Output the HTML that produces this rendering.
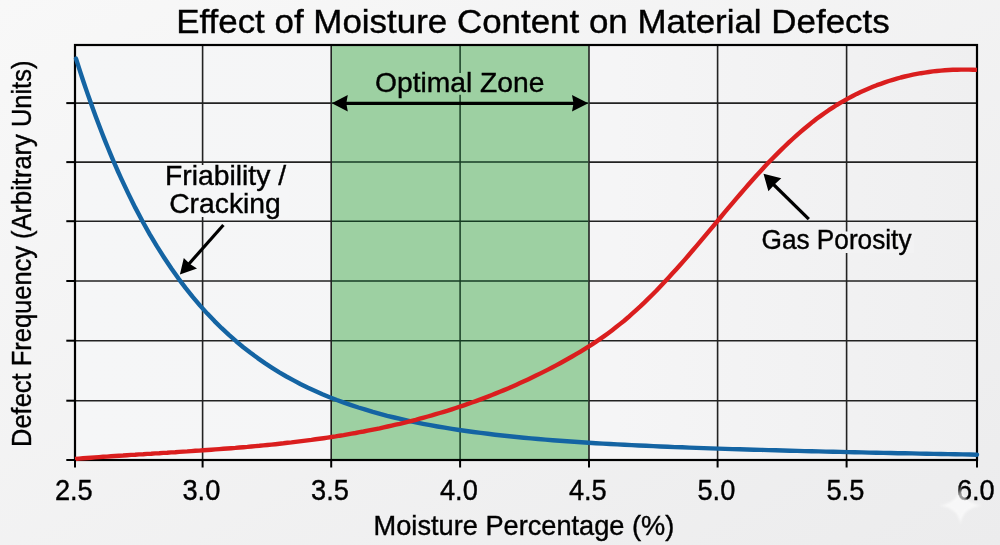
<!DOCTYPE html>
<html><head><meta charset="utf-8"><style>
html,body{margin:0;padding:0;width:1000px;height:545px;overflow:hidden;background:#f4f4f4}
svg{display:block;will-change:transform}
text{font-family:"Liberation Sans",sans-serif;fill:#000;stroke:#000;stroke-width:0.4px}
</style></head><body>
<svg width="1000" height="545" viewBox="0 0 1000 545">
<defs>
<linearGradient id="bg" x1="0" y1="0" x2="1" y2="1">
<stop offset="0" stop-color="#f8f8f8"/><stop offset="1" stop-color="#ececed"/>
</linearGradient>
<linearGradient id="pbg" x1="0" y1="0" x2="1" y2="0">
<stop offset="0" stop-color="#f5f6f7"/><stop offset="0.6" stop-color="#f5f5f6"/><stop offset="1" stop-color="#efeff0"/>
</linearGradient>
<filter id="soft" x="-20%" y="-20%" width="140%" height="140%"><feGaussianBlur stdDeviation="0.8"/></filter>
</defs>
<rect x="0" y="0" width="1000" height="545" fill="url(#bg)"/>
<rect x="75" y="45" width="902" height="415" fill="url(#pbg)"/>
<rect x="331.2" y="45" width="257.8" height="415" fill="#9dd0a2"/>
<g stroke="#222" stroke-width="1.6">
<line x1="202.6" y1="45" x2="202.6" y2="460"/>
<line x1="331.2" y1="45" x2="331.2" y2="460"/>
<line x1="589.0" y1="45" x2="589.0" y2="460"/>
<line x1="717.6" y1="45" x2="717.6" y2="460"/>
<line x1="846.6" y1="45" x2="846.6" y2="460"/>
<line x1="75" y1="103.1" x2="331.2" y2="103.1"/>
<line x1="589" y1="103.1" x2="977" y2="103.1"/>
<line x1="75" y1="162.1" x2="331.2" y2="162.1"/>
<line x1="589" y1="162.1" x2="977" y2="162.1"/>
<line x1="75" y1="221.2" x2="331.2" y2="221.2"/>
<line x1="589" y1="221.2" x2="977" y2="221.2"/>
<line x1="75" y1="281.0" x2="331.2" y2="281.0"/>
<line x1="589" y1="281.0" x2="977" y2="281.0"/>
<line x1="75" y1="340.7" x2="331.2" y2="340.7"/>
<line x1="589" y1="340.7" x2="977" y2="340.7"/>
<line x1="75" y1="400.7" x2="331.2" y2="400.7"/>
<line x1="589" y1="400.7" x2="977" y2="400.7"/>
</g>
<g stroke="#173d24" stroke-width="1.5">
<line x1="460.1" y1="45" x2="460.1" y2="460"/>
<line x1="332" y1="103.1" x2="588.2" y2="103.1"/>
<line x1="332" y1="162.1" x2="588.2" y2="162.1"/>
<line x1="332" y1="221.2" x2="588.2" y2="221.2"/>
<line x1="332" y1="281.0" x2="588.2" y2="281.0"/>
<line x1="332" y1="340.7" x2="588.2" y2="340.7"/>
<line x1="332" y1="400.7" x2="588.2" y2="400.7"/>
</g>
<!-- label backgrounds -->
<rect x="374" y="73" width="171" height="21.8" fill="#9dd0a2"/>
<rect x="163" y="165" width="126" height="52" fill="#f5f6f7"/>
<rect x="760" y="231.5" width="154" height="21.5" fill="#f2f2f3"/>
<rect x="75" y="45" width="902" height="415" fill="none" stroke="#000" stroke-width="2.2"/>
<path d="M76.0,58.6 L78.0,64.9 L80.0,71.1 L82.0,77.2 L84.0,83.2 L86.0,89.1 L88.0,94.9 L90.0,100.6 L92.0,106.3 L94.0,111.8 L96.0,117.2 L98.0,122.6 L100.0,127.8 L102.0,133.0 L104.0,138.1 L106.0,143.1 L108.0,148.0 L110.0,152.9 L112.0,157.6 L114.0,162.3 L116.0,166.9 L118.0,171.5 L120.0,175.9 L121.0,178.1 L128.2,193.4 L135.4,207.9 L142.6,221.5 L149.8,234.3 L157.0,246.4 L164.2,257.7 L171.4,268.5 L178.5,278.6 L185.7,288.1 L192.9,297.1 L200.1,305.6 L207.3,313.6 L214.5,321.1 L221.7,328.2 L228.9,334.9 L236.1,341.2 L243.3,347.2 L250.5,352.8 L257.7,358.1 L264.9,363.1 L272.1,367.8 L279.3,372.3 L286.4,376.5 L293.6,380.4 L300.8,384.2 L308.0,387.7 L315.2,391.0 L322.4,394.2 L329.6,397.2 L336.8,400.0 L344.0,402.6 L351.2,405.1 L358.4,407.5 L365.6,409.7 L372.8,411.9 L380.0,413.9 L387.2,415.8 L394.3,417.5 L401.5,419.2 L408.7,420.8 L415.9,422.4 L423.1,423.8 L430.3,425.2 L437.5,426.5 L444.7,427.7 L451.9,428.9 L459.1,430.0 L466.3,431.0 L473.5,432.0 L480.7,432.9 L487.9,433.8 L495.1,434.7 L502.2,435.5 L509.4,436.3 L516.6,437.0 L523.8,437.7 L531.0,438.4 L538.2,439.0 L545.4,439.6 L552.6,440.2 L559.8,440.7 L567.0,441.3 L574.2,441.8 L581.4,442.3 L588.6,442.7 L595.8,443.2 L602.9,443.6 L610.1,444.0 L617.3,444.4 L624.5,444.8 L631.7,445.1 L638.9,445.5 L646.1,445.8 L653.3,446.1 L660.5,446.5 L667.7,446.8 L674.9,447.1 L682.1,447.3 L689.3,447.6 L696.5,447.9 L703.7,448.1 L710.8,448.4 L718.0,448.6 L725.2,448.9 L732.4,449.1 L739.6,449.3 L746.8,449.5 L754.0,449.7 L761.2,449.9 L768.4,450.1 L775.6,450.3 L782.8,450.5 L790.0,450.7 L797.2,450.9 L804.4,451.1 L811.6,451.3 L818.7,451.4 L825.9,451.6 L833.1,451.8 L840.3,451.9 L847.5,452.1 L854.7,452.3 L861.9,452.4 L869.1,452.6 L876.3,452.7 L883.5,452.9 L890.7,453.0 L897.9,453.2 L905.1,453.3 L912.3,453.4 L919.5,453.6 L926.6,453.7 L933.8,453.9 L941.0,454.0 L948.2,454.1 L955.4,454.3 L962.6,454.4 L969.8,454.5 L977.0,454.7" fill="none" stroke="#1464a3" stroke-width="4.4" stroke-linecap="round" stroke-linejoin="round"/>
<path d="M75.0,459.0 L79.0,458.6 L83.0,458.3 L87.0,458.0 L91.0,457.7 L95.0,457.4 L99.1,457.1 L103.1,456.8 L107.1,456.6 L111.1,456.3 L115.1,456.0 L119.1,455.7 L123.1,455.5 L127.1,455.2 L131.1,454.9 L135.1,454.7 L139.1,454.4 L143.2,454.2 L147.2,453.9 L151.2,453.7 L155.2,453.4 L159.2,453.2 L163.2,452.9 L167.2,452.7 L171.2,452.4 L175.2,452.2 L179.2,451.9 L183.2,451.6 L187.2,451.4 L191.3,451.1 L195.3,450.8 L199.3,450.6 L203.3,450.3 L207.3,450.0 L211.3,449.7 L215.3,449.4 L219.3,449.1 L223.3,448.8 L227.3,448.5 L231.3,448.2 L235.4,447.9 L239.4,447.5 L243.4,447.2 L247.4,446.9 L251.4,446.5 L255.4,446.1 L259.4,445.8 L263.4,445.4 L267.4,445.0 L271.4,444.6 L275.4,444.2 L279.5,443.7 L283.5,443.3 L287.5,442.8 L291.5,442.4 L295.5,441.9 L299.5,441.4 L303.5,440.9 L307.5,440.4 L311.5,439.9 L315.5,439.3 L319.5,438.8 L323.6,438.2 L327.6,437.6 L331.6,437.0 L335.6,436.4 L339.6,435.7 L343.6,435.1 L347.6,434.4 L351.6,433.7 L355.6,433.0 L359.6,432.2 L363.6,431.5 L367.6,430.7 L371.7,429.9 L375.7,429.1 L379.7,428.3 L383.7,427.4 L387.7,426.5 L391.7,425.6 L395.7,424.7 L399.7,423.8 L403.7,422.8 L407.7,421.8 L411.7,420.8 L415.8,419.8 L419.8,418.7 L423.8,417.6 L427.8,416.5 L431.8,415.4 L435.8,414.2 L439.8,413.0 L443.8,411.8 L447.8,410.6 L451.8,409.3 L455.8,408.0 L459.9,406.7 L463.9,405.3 L467.9,403.9 L471.9,402.5 L475.9,401.1 L479.9,399.6 L483.9,398.1 L487.9,396.6 L491.9,395.0 L495.9,393.4 L499.9,391.8 L504.0,390.1 L508.0,388.4 L512.0,386.7 L516.0,384.9 L520.0,383.1 L524.0,381.3 L528.0,379.4 L532.0,377.5 L536.0,375.6 L540.0,373.6 L544.0,371.6 L548.0,369.6 L552.1,367.5 L556.1,365.4 L560.1,363.2 L564.1,361.0 L568.1,358.8 L572.1,356.5 L576.1,354.2 L580.1,351.8 L584.1,349.3 L588.1,346.8 L592.1,344.3 L596.2,341.6 L600.2,338.9 L604.2,336.1 L608.2,333.2 L612.2,330.2 L616.2,327.1 L620.2,323.9 L624.2,320.7 L628.2,317.3 L632.2,313.7 L636.2,310.1 L640.3,306.4 L644.3,302.6 L648.3,298.7 L652.3,294.7 L656.3,290.7 L660.3,286.5 L664.3,282.3 L668.3,278.0 L672.3,273.6 L676.3,269.2 L680.3,264.7 L684.4,260.1 L688.4,255.5 L692.4,250.8 L696.4,246.1 L700.4,241.4 L704.4,236.6 L708.4,231.9 L712.4,227.1 L716.4,222.3 L720.4,217.5 L724.4,212.7 L728.4,207.9 L732.5,203.1 L736.5,198.4 L740.5,193.7 L744.5,189.1 L748.5,184.5 L752.5,180.0 L756.5,175.5 L760.5,171.2 L764.5,166.8 L768.5,162.6 L772.5,158.5 L776.6,154.4 L780.6,150.4 L784.6,146.5 L788.6,142.7 L792.6,139.0 L796.6,135.4 L800.6,131.9 L804.6,128.5 L808.6,125.2 L812.6,121.9 L816.6,118.8 L820.7,115.9 L824.7,113.0 L828.7,110.2 L832.7,107.6 L836.7,105.0 L840.7,102.6 L844.7,100.3 L848.7,98.1 L852.7,96.0 L856.7,93.9 L860.7,92.0 L864.8,90.2 L868.8,88.5 L872.8,86.8 L876.8,85.2 L880.8,83.8 L884.8,82.4 L888.8,81.0 L892.8,79.8 L896.8,78.6 L900.8,77.5 L904.8,76.5 L908.8,75.6 L912.9,74.7 L916.9,73.9 L920.9,73.2 L924.9,72.6 L928.9,72.0 L932.9,71.4 L936.9,71.0 L940.9,70.6 L944.9,70.3 L948.9,70.0 L952.9,69.8 L957.0,69.7 L961.0,69.6 L965.0,69.6 L969.0,69.6 L973.0,69.7 L977.0,69.9" fill="none" stroke="#da1e1e" stroke-width="4.4" stroke-linecap="butt" stroke-linejoin="round"/>
<g stroke="#000" stroke-width="2">
<line x1="75.0" y1="460" x2="75.0" y2="467.5"/>
<line x1="202.6" y1="460" x2="202.6" y2="467.5"/>
<line x1="331.2" y1="460" x2="331.2" y2="467.5"/>
<line x1="460.1" y1="460" x2="460.1" y2="467.5"/>
<line x1="589.0" y1="460" x2="589.0" y2="467.5"/>
<line x1="717.6" y1="460" x2="717.6" y2="467.5"/>
<line x1="846.6" y1="460" x2="846.6" y2="467.5"/>
<line x1="977.0" y1="460" x2="977.0" y2="467.5"/>
<line x1="66.3" y1="103.1" x2="75" y2="103.1"/>
<line x1="66.3" y1="162.1" x2="75" y2="162.1"/>
<line x1="66.3" y1="221.2" x2="75" y2="221.2"/>
<line x1="66.3" y1="281.0" x2="75" y2="281.0"/>
<line x1="66.3" y1="340.7" x2="75" y2="340.7"/>
<line x1="66.3" y1="400.7" x2="75" y2="400.7"/>
<line x1="66.3" y1="460.0" x2="75" y2="460.0"/>
</g>
<!-- optimal zone arrow -->
<line x1="345" y1="103.4" x2="575" y2="103.4" stroke="#000" stroke-width="3.4"/>
<path d="M331.8,103.3 L347.8,95.1 L346.3,103.3 L347.8,111.5 Z" fill="#000"/>
<path d="M588.3,103.3 L572,95.1 L573.5,103.3 L572,111.5 Z" fill="#000"/>
<!-- annotation arrows -->
<line x1="223.4" y1="225" x2="188" y2="265" stroke="#000" stroke-width="3.2"/>
<path d="M179.9,274.5 L183.8,258 L190,264 L197,268.4 Z" fill="#000"/>
<line x1="808.8" y1="219.1" x2="772" y2="183" stroke="#000" stroke-width="3.2"/>
<path d="M763.5,173.8 L781.3,178.3 L775,184 L768.4,191.2 Z" fill="#000"/>
<g font-size="28.8">
<text x="73.8" y="499.6" text-anchor="middle" textLength="37.8" lengthAdjust="spacingAndGlyphs">2.5</text>
<text x="201.4" y="499.6" text-anchor="middle" textLength="37.8" lengthAdjust="spacingAndGlyphs">3.0</text>
<text x="330.0" y="499.6" text-anchor="middle" textLength="37.8" lengthAdjust="spacingAndGlyphs">3.5</text>
<text x="458.9" y="499.6" text-anchor="middle" textLength="37.8" lengthAdjust="spacingAndGlyphs">4.0</text>
<text x="587.8" y="499.6" text-anchor="middle" textLength="37.8" lengthAdjust="spacingAndGlyphs">4.5</text>
<text x="716.4" y="499.6" text-anchor="middle" textLength="37.8" lengthAdjust="spacingAndGlyphs">5.0</text>
<text x="845.4" y="499.6" text-anchor="middle" textLength="37.8" lengthAdjust="spacingAndGlyphs">5.5</text>
<text x="975.8" y="499.6" text-anchor="middle" textLength="37.8" lengthAdjust="spacingAndGlyphs">6.0</text>
</g>
<text x="176.2" y="33.3" font-size="33" textLength="713.5" lengthAdjust="spacingAndGlyphs">Effect of Moisture Content on Material Defects</text>
<text transform="translate(30.5,447) rotate(-90)" font-size="28.3" textLength="386.4" lengthAdjust="spacingAndGlyphs">Defect Frequency (Arbitrary Units)</text>
<text x="373.6" y="534.6" font-size="28.5" textLength="300.7" lengthAdjust="spacingAndGlyphs">Moisture Percentage (%)</text>
<text x="375.0" y="91.6" font-size="28.5" textLength="169.4" lengthAdjust="spacingAndGlyphs">Optimal Zone</text>
<text x="225.5" y="185.2" font-size="28.3" text-anchor="middle">Friability /</text>
<text x="225" y="212.9" font-size="28.3" text-anchor="middle">Cracking</text>
<text x="761.5" y="248.8" font-size="27.4" textLength="150" lengthAdjust="spacingAndGlyphs">Gas Porosity</text>
<path d="M960.5,485 Q962,503 982,505.5 Q962,508 960.5,525 Q959,508 939,505.5 Q959,503 960.5,485 Z" fill="#ffffff" opacity="0.6" filter="url(#soft)"/>
</svg>
</body></html>
